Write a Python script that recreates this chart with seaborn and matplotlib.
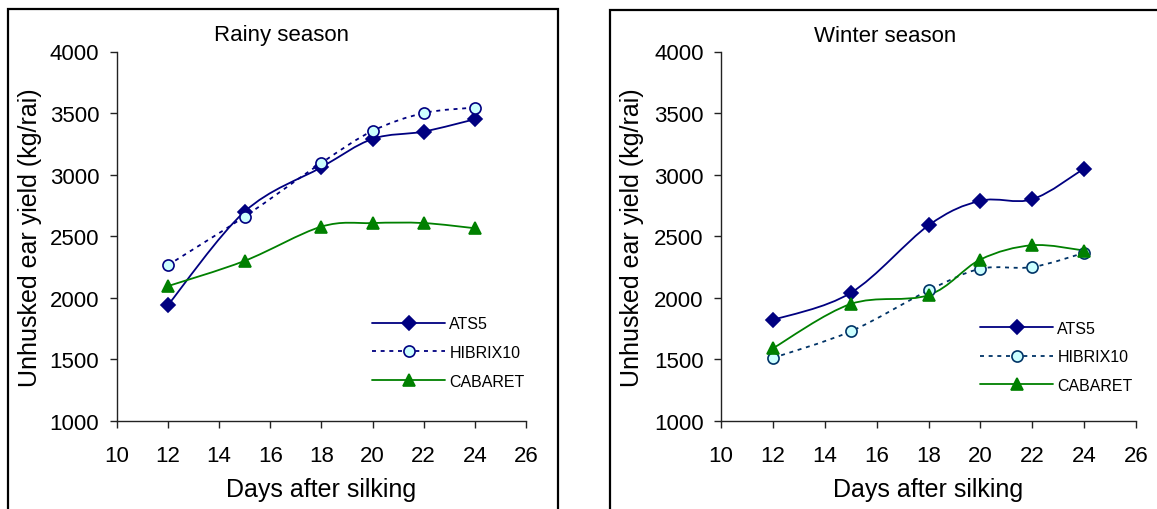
import numpy as np
import pandas as pd
import matplotlib
matplotlib.use("Agg")
import matplotlib.pyplot as plt
from matplotlib.path import Path
from matplotlib.patches import PathPatch, Rectangle
from matplotlib.lines import Line2D
import seaborn as sns

# ---------------- data ----------------
days = [12, 15, 18, 20, 22, 24]
varieties = ["ATS5", "HIBRIX10", "CABARET"]

rainy_ats5 = [1940, 2700, 3060, 3290, 3350, 3450]
rainy_hibrix10 = [2265, 2660, 3095, 3355, 3500, 3545]
rainy_cabaret = [2095, 2300, 2578, 2607, 2607, 2565]

winter_ats5 = [1820, 2040, 2588, 2788, 2800, 3050]
winter_hibrix10 = [1512, 1728, 2060, 2236, 2250, 2365]
winter_cabaret = [1590, 1950, 2022, 2311, 2427, 2384]

titles = ["Rainy season", "Winter season"]
xticks = [10, 12, 14, 16, 18, 20, 22, 24, 26]
yticks = [1000, 1500, 2000, 2500, 3000, 3500, 4000]
xlabel = "Days after silking"
ylabel = "Unhusked ear yield (kg/rai)"

# ---------------- style ----------------
sns.set_theme(style="white")
plt.rcParams["font.family"] = ["Liberation Sans", "DejaVu Sans"]
plt.rcParams["text.color"] = "black"
plt.rcParams["axes.labelcolor"] = "black"

W, H = 1157, 510
fig = plt.figure(figsize=(W / 100, H / 100), dpi=100)


def fx(px):
    return px / W


def fy(py):
    return 1 - py / H


def smooth_path(x, y):
    """Excel-like smoothed (Catmull-Rom Bezier) path through the data points."""
    x = np.asarray(x, float)
    y = np.asarray(y, float)
    n = len(x)
    verts = [(x[0], y[0])]
    codes = [Path.MOVETO]
    for i in range(n - 1):
        p0 = np.array([x[max(i - 1, 0)], y[max(i - 1, 0)]])
        p1 = np.array([x[i], y[i]])
        p2 = np.array([x[i + 1], y[i + 1]])
        p3 = np.array([x[min(i + 2, n - 1)], y[min(i + 2, n - 1)]])
        c1 = p1 + (p2 - p0) / 6.0
        c2 = p2 - (p3 - p1) / 6.0
        verts += [tuple(c1), tuple(c2), tuple(p2)]
        codes += [Path.CURVE4] * 3
    return Path(verts, codes)


panels = [
    dict(rect=(116.7, 52.5, 526, 422), data=[rainy_ats5, rainy_hibrix10, rainy_cabaret],
         hib_col="#000080", title_x=282, ylab_x=30,
         leg=(372, 353.5)),
    dict(rect=(721, 52.5, 1136, 422), data=[winter_ats5, winter_hibrix10, winter_cabaret],
         hib_col="#003366", title_x=885, ylab_x=632,
         leg=(980, 358)),
]

dash = (0, (2.2, 2.6))

for k, p in enumerate(panels):
    x0, y0, x1, y1 = p["rect"]
    ax = fig.add_axes([fx(x0), fy(y1), fx(x1) - fx(x0), fy(y0) - fy(y1)])
    styles = {
        "ATS5": dict(color="#000080", marker="D", ms=7.5, mfc="#000080", mec="#000080", ls="-"),
        "HIBRIX10": dict(color=p["hib_col"], marker="o", ms=8, mfc="#CCFFFF", mec=p["hib_col"], ls=dash),
        "CABARET": dict(color="#008000", marker="^", ms=9, mfc="#008000", mec="#008000", ls="-"),
    }
    handles = []
    for name, vals in zip(varieties, p["data"]):
        st = styles[name]
        patch = PathPatch(smooth_path(days, vals), fill=False, edgecolor=st["color"],
                          lw=1.3, linestyle=st["ls"], zorder=2)
        ax.add_patch(patch)
        df = pd.DataFrame({"day": days, "yield": vals})
        sns.lineplot(data=df, x="day", y="yield", ax=ax, linestyle="", marker=st["marker"],
                     markersize=st["ms"], markerfacecolor=st["mfc"], markeredgecolor=st["mec"],
                     markeredgewidth=1.2, color=st["color"], zorder=3)
        handles.append(Line2D([], [], color=st["color"], lw=1.3, linestyle=st["ls"],
                              marker=st["marker"], markersize=st["ms"],
                              markerfacecolor=st["mfc"], markeredgecolor=st["mec"],
                              markeredgewidth=1.2))

    ax.set_xlim(10, 26)
    ax.set_ylim(1000, 4000)
    ax.set_xticks(xticks)
    ax.set_yticks(yticks)
    ax.set_xlabel("")
    ax.set_ylabel("")
    for s in ["top", "right"]:
        ax.spines[s].set_visible(False)
    for s in ["left", "bottom"]:
        ax.spines[s].set_color("#222222")
        ax.spines[s].set_linewidth(1.0)
    ax.tick_params(axis="both", direction="out", length=5, width=1.0, color="#222222",
                   labelsize=16, labelcolor="black", bottom=True, left=True)
    ax.tick_params(axis="x", pad=12.5)
    ax.tick_params(axis="y", pad=7.5)
    ax.patch.set_alpha(0)

    # titles and labels
    fig.text(fx(p["title_x"]), fy(36), titles[k], ha="center", va="center", fontsize=16,
             color="black")
    fig.text(fx((x0 + x1) / 2), fy(490), xlabel, ha="center", va="center", fontsize=18,
             color="black")
    fig.text(fx(p["ylab_x"]), fy((y0 + y1) / 2), ylabel, ha="center", va="center",
             rotation=90, fontsize=18, color="black")

    lx, ly = p["leg"]
    leg = fig.legend(handles, varieties, loc="center left",
                     bbox_to_anchor=(fx(lx), fy(ly)), bbox_transform=fig.transFigure,
                     frameon=False, fontsize=11.5, handlelength=4.6, handletextpad=0.25,
                     labelspacing=0.85, borderpad=0, borderaxespad=0)
    for t in leg.get_texts():
        t.set_color("black")

# panel frames
fig.add_artist(Rectangle((fx(8), fy(530)), fx(558) - fx(8), fy(10) - fy(530),
                         transform=fig.transFigure, fill=False, edgecolor="black", lw=1.6))
fig.add_artist(Rectangle((fx(610), fy(530)), fx(1180) - fx(610), fy(11) - fy(530),
                         transform=fig.transFigure, fill=False, edgecolor="black", lw=1.6))

fig.savefig("out.png", dpi=100, facecolor="white")
